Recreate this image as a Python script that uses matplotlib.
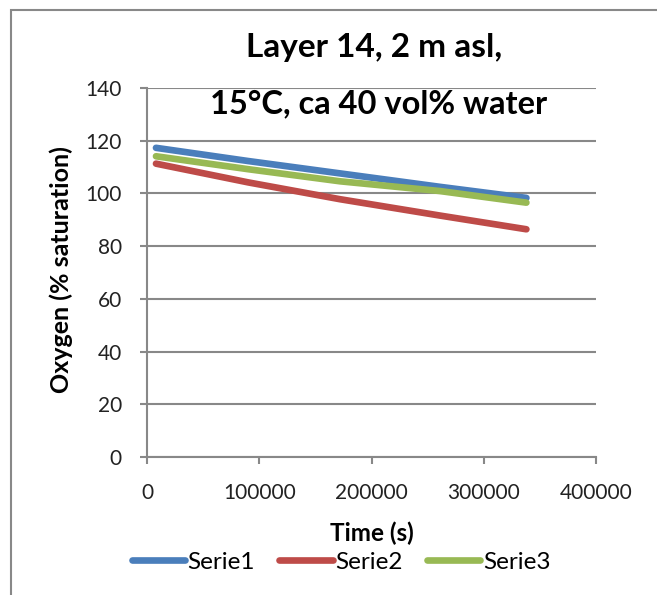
import matplotlib.pyplot as plt
from matplotlib.patches import Rectangle

# values
time_s = [8000, 90000, 172000, 261000, 338000]
serie1 = [117.3, 112.3, 107.6, 102.5, 98.3]
serie2 = [111.3, 104.2, 97.8, 91.6, 86.4]
serie3 = [114.1, 109.2, 104.6, 100.9, 96.5]
series = [("Serie1", serie1, "#4A7EBB"),
          ("Serie2", serie2, "#BE4B48"),
          ("Serie3", serie3, "#98B954")]
y_ticks = [0, 20, 40, 60, 80, 100, 120, 140]
x_ticks = [0, 100000, 200000, 300000, 400000]

plt.rcParams['font.family'] = ['Lato', 'DejaVu Sans']
W, H = 657, 595
grey = "#888888"

fig = plt.figure(figsize=(W / 100, H / 100), dpi=100)
ax = fig.add_axes([147 / W, 1 - 457 / H, (596 - 147) / W, (457 - 88) / H])

for name, vals, col in series:
    ax.plot(time_s, vals, color=col, lw=4.8, solid_capstyle="round", label=name, zorder=3)

ax.set_xlim(0, 400000)
ax.set_ylim(0, 140)
ax.set_xticks(x_ticks)
ax.set_yticks(y_ticks)
ax.set_xticklabels([str(t) for t in x_ticks])
ax.grid(axis="y", color=grey, lw=1.5)
ax.set_axisbelow(True)
for s in ["top", "right"]:
    ax.spines[s].set_visible(False)
for s in ["left", "bottom"]:
    ax.spines[s].set_color(grey)
    ax.spines[s].set_linewidth(1.5)
ax.tick_params(axis="both", direction="out", length=5, width=1.5, color=grey,
               labelsize=15, labelcolor="#222222")
ax.tick_params(axis="y", pad=13)
ax.tick_params(axis="x", pad=14)

fig.text(61 / W, 1 - 270 / H, "Oxygen (% saturation)", rotation=90, ha="center",
         va="center", fontsize=18, fontweight="bold")
fig.text(372 / W, 1 - 533 / H, "Time (s)", ha="center", va="center",
         fontsize=17.5, fontweight="bold")

fig.text(374 / W, 1 - 57 / H, "Layer 14, 2 m asl,", ha="center", va="baseline",
         fontsize=24, fontweight="bold")
fig.text(379 / W, 1 - 113 / H, "15\u00b0C, ca 40 vol% water", ha="center",
         va="baseline", fontsize=23.5, fontweight="bold", zorder=5)

fig.legend(loc="center", bbox_to_anchor=(341 / W, 1 - 562 / H), ncol=3,
           frameon=False, fontsize=17.5, handlelength=2.2, handletextpad=0.1,
           columnspacing=1.0)

fig.patches.append(Rectangle((11 / W, -0.05), 1.0, 1.05 - 10 / H, transform=fig.transFigure,
                             fill=False, edgecolor=grey, lw=1.5))

fig.savefig("out.png", dpi=100)
